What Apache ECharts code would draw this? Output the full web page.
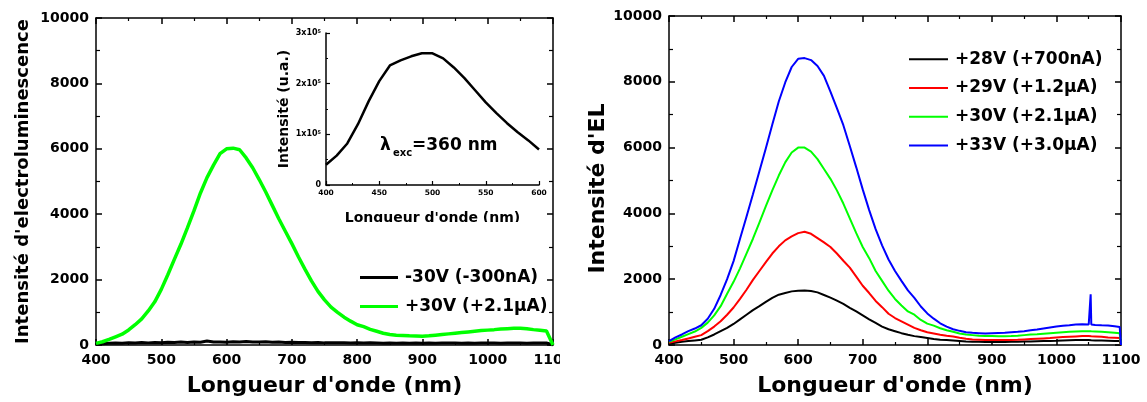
<!DOCTYPE html>
<html><head><meta charset="utf-8">
<script src="https://cdn.jsdelivr.net/npm/echarts@6/dist/echarts.min.js"></script>
<style>html,body{margin:0;padding:0;background:#fff}#c{width:1147px;height:402px}</style>
</head><body><div id="c"></div>
<script>
// ---------- DATA ----------
const wlLeft = [400,410,420,430,440,450,460,470,480,490,500,510,520,530,540,550,560,570,580,590,600,610,620,630,640,650,660,670,680,690,700,710,720,730,740,750,760,770,780,790,800,810,820,830,840,850,860,870,880,890,900,910,920,930,940,950,960,970,980,990,1000,1010,1020,1030,1040,1050,1060,1070,1080,1090,1100];
const leftBlack = [20,40,50,60,55,70,60,75,65,80, 70,85,75,90,80,95,85,120,90,95, 85,100,90,110,95,90,100,85,90,80, 85,75,80,70,75,65,70,65,70,60, 65,60,65,60,55,60,55,60,55,60, 55,60,55,60,58,62,57,60,56,62, 58,60,57,62,58,60,56,60,58,60, 0];
const leftGreen = [50,100,170,250,330,460,620,800,1040,1320, 1700,2150,2620,3080,3580,4100,4650,5120,5500,5850, 6000,6020,5970,5720,5420,5060,4680,4270,3860,3480, 3100,2700,2320,1960,1640,1380,1160,1000,850,730, 620,560,480,420,360,320,300,290,280,275, 270,280,300,320,340,360,380,400,420,440, 455,470,490,500,510,515,500,470,450,425, 0];

const wlRight = [400,410,420,430,440,450,460,470,480,490,500,510,520,530,540,550,560,570,580,590,600,610,620,630,640,650,660,670,680,690,700,710,720,730,740,750,760,770,780,790,800,810,820,830,840,850,860,870,880,890,900,910,920,930,940,950,960,970,980,990,1000,1010,1020,1030,1040,1050,1052,1053,1054,1060,1070,1080,1090,1098,1100];
const right28 = [40,70,100,120,140,160,230,320,420,520, 640,780,920,1060,1180,1310,1430,1530,1580,1630, 1650,1660,1640,1600,1520,1440,1350,1250,1130,1020, 900,780,670,560,480,420,360,310,270,240, 210,180,160,150,140,125,110,100,95,90, 90,90,90,95,100,105,110,115,120,125, 130,140,145,150,150,150, 150,150,145, 140,135,130,125, 120,0];
const right29 = [70,110,150,200,250,300,420,560,720,920, 1140,1400,1680,1980,2250,2520,2780,3000,3180,3300, 3400,3440,3380,3250,3120,2980,2780,2560,2350,2080, 1800,1580,1340,1150,950,820,720,620,520,450, 390,350,310,280,260,220,190,170,160,150, 150,150,150,155,160,170,180,190,200,210, 225,240,250,260,270,270, 270,270,265, 260,250,230,220, 210,0];
const right30 = [100,170,250,330,410,520,680,900,1180,1560, 1920,2330,2780,3230,3720,4220,4700,5150,5550,5850, 6000,6000,5880,5650,5350,5050,4700,4300,3850,3400, 2980,2640,2250,1950,1650,1400,1200,1020,920,760, 650,590,510,450,400,350,320,300,280,275, 270,265,265,270,280,300,320,330,345,360, 375,390,400,410,420,420, 420,420,415, 410,400,390,375, 360,0];
const right33 = [120,230,320,420,500,600,800,1100,1520,2000, 2550,3230,3900,4580,5280,5980,6700,7400,7980,8450, 8700,8720,8660,8480,8180,7700,7200,6680,6050,5400, 4730,4100,3520,3030,2600,2250,1950,1660,1430,1170, 960,800,660,560,480,430,390,370,360,350, 360,365,370,385,400,420,445,470,500,530, 560,585,600,620,630,625, 620,1540,620, 610,600,595,570, 545,0];

const wlInset = [400,410,420,430,440,450,460,470,480,490,500,510,520,530,540,550,560,570,580,590,600];
const insetPL = [40000,58000,82000,120000,165000,205000,236000,246000,254000,260000,260000,250000,232000,211000,187000,163000,142000,122000,104000,88000,70000];

const leftNames = ['-30V (-300nA)', '+30V (+2.1μA)'];
const rightNames = ['+28V (+700nA)', '+29V (+1.2μA)', '+30V (+2.1μA)', '+33V (+3.0μA)'];
const xName = "Longueur d'onde (nm)";
const leftYName = "Intensité d'electroluminescence";
const rightYName = "Intensité d'EL";
const insetYName = 'Intensité (u.a.)';

// ---------- CHART ----------
const F = 'DejaVu Sans';
const zip = (xs, ys) => xs.map((x, i) => [x, ys[i]]);
const plain = v => String(v);

function xAx(grid, pos, show, nameGap) {
  return {
    type: 'value', gridIndex: grid, position: pos, min: 400, max: 1100, interval: 100,
    axisLine: {show: true, onZero: false, lineStyle: {color: '#000', width: 1.5}},
    axisTick: {show: true, inside: true, length: 6, lineStyle: {color: '#000', width: 1.5}},
    minorTick: {show: true, splitNumber: 2, length: 3, lineStyle: {color: '#000', width: 1.2}},
    axisLabel: {show: show, margin: 8, fontFamily: F, fontWeight: 'bold', fontSize: 14, color: '#000', formatter: plain},
    splitLine: {show: false}, minorSplitLine: {show: false},
    name: show ? xName : '', nameLocation: 'middle', nameGap: nameGap || 30,
    nameTextStyle: {fontFamily: F, fontWeight: 'bold', fontSize: 22, color: '#000'}
  };
}
function yAx(grid, pos, show, name, nameGap, fs, pad) {
  return {
    type: 'value', gridIndex: grid, position: pos, min: 0, max: 10000, interval: 2000,
    axisLine: {show: true, onZero: false, lineStyle: {color: '#000', width: 1.5}},
    axisTick: {show: true, inside: true, length: 6, lineStyle: {color: '#000', width: 1.5}},
    minorTick: {show: true, splitNumber: 2, length: 4, lineStyle: {color: '#000', width: 1.2}},
    axisLabel: {show: show, margin: 7, fontFamily: F, fontWeight: 'bold', fontSize: 14, color: '#000', formatter: plain},
    splitLine: {show: false}, minorSplitLine: {show: false},
    name: show ? name : '', nameLocation: 'middle', nameGap: nameGap || 60,
    nameTextStyle: {fontFamily: F, fontWeight: 'bold', fontSize: fs || 22, color: '#000', padding: pad || 0}
  };
}

const option = {
  animation: false,
  backgroundColor: '#fff',
  textStyle: {fontFamily: F},
  grid: [
    {left: 96, top: 18, width: 457, height: 329},
    {left: 669, top: 16, width: 452, height: 331},
    {left: 326, top: 33, width: 213, height: 152}
  ],
  xAxis: [
    xAx(0, 'bottom', true, 30),
    xAx(0, 'top', false),
    xAx(1, 'bottom', true, 30),
    xAx(1, 'top', false),
    {
      type: 'value', gridIndex: 2, position: 'bottom', min: 400, max: 600, interval: 50,
      axisLine: {show: true, onZero: false, lineStyle: {color: '#000', width: 1.5}},
      axisTick: {show: true, inside: true, length: 4, lineStyle: {color: '#000', width: 1.2}},
      minorTick: {show: true, splitNumber: 2, length: 2, lineStyle: {color: '#000', width: 1}},
      axisLabel: {margin: 4, fontFamily: F, fontWeight: 'bold', fontSize: 7.5, color: '#000'},
      splitLine: {show: false},
      name: xName, nameLocation: 'middle', nameGap: 26,
      nameTextStyle: {fontFamily: F, fontWeight: 'bold', fontSize: 14, color: '#000'}
    }
  ],
  yAxis: [
    yAx(0, 'left', true, leftYName, 64, 18),
    yAx(0, 'right', false),
    yAx(1, 'left', true, rightYName, 58, 22, [0, 16, 0, 0]),
    yAx(1, 'right', false),
    {
      type: 'value', gridIndex: 2, position: 'left', min: 0, max: 300000, interval: 100000,
      axisLine: {show: true, onZero: false, lineStyle: {color: '#000', width: 1.5}},
      axisTick: {show: true, inside: true, length: 4, lineStyle: {color: '#000', width: 1.2}},
      minorTick: {show: true, splitNumber: 2, length: 2, lineStyle: {color: '#000', width: 1}},
      axisLabel: {
        margin: 5, fontFamily: F, fontWeight: 'bold', fontSize: 8, color: '#000',
        formatter: v => v === 0 ? '0' : (v / 100000) + 'x10{s|5}',
        rich: {s: {fontFamily: F, fontWeight: 'bold', fontSize: 5, verticalAlign: 'top', color: '#000'}}
      },
      splitLine: {show: false},
      name: insetYName, nameLocation: 'middle', nameGap: 28,
      nameTextStyle: {fontFamily: F, fontWeight: 'bold', fontSize: 14, color: '#000'}
    }
  ],
  legend: [
    {
      orient: 'vertical', left: 355, top: 258, icon: 'rect', itemWidth: 38, itemHeight: 3, itemGap: 0,
      data: leftNames, selectedMode: false,
      textStyle: {fontFamily: F, fontWeight: 'bold', fontSize: 17, color: '#000', lineHeight: 29, padding: [0, 0, 0, 2]}
    },
    {
      orient: 'vertical', left: 904, top: 40, icon: 'rect', itemWidth: 39, itemHeight: 2, itemGap: 0,
      data: rightNames, selectedMode: false,
      textStyle: {fontFamily: F, fontWeight: 'bold', fontSize: 17, color: '#000', lineHeight: 28.7, padding: [0, 0, 0, 2]}
    }
  ],
  series: [
    {name: leftNames[0], type: 'line', xAxisIndex: 0, yAxisIndex: 0, symbol: 'none', color: '#000',
      lineStyle: {width: 3, color: '#000'}, data: zip(wlLeft, leftBlack)},
    {name: leftNames[1], type: 'line', xAxisIndex: 0, yAxisIndex: 0, symbol: 'none', color: '#00ff00',
      lineStyle: {width: 3.5, color: '#00ff00'}, data: zip(wlLeft, leftGreen)},
    {name: rightNames[0], type: 'line', xAxisIndex: 2, yAxisIndex: 2, symbol: 'none', color: '#000',
      lineStyle: {width: 2, color: '#000'}, data: zip(wlRight, right28)},
    {name: rightNames[1], type: 'line', xAxisIndex: 2, yAxisIndex: 2, symbol: 'none', color: '#ff0000',
      lineStyle: {width: 2, color: '#ff0000'}, data: zip(wlRight, right29)},
    {name: rightNames[2], type: 'line', xAxisIndex: 2, yAxisIndex: 2, symbol: 'none', color: '#00ff00',
      lineStyle: {width: 2, color: '#00ff00'}, data: zip(wlRight, right30)},
    {name: rightNames[3], type: 'line', xAxisIndex: 2, yAxisIndex: 2, symbol: 'none', color: '#0000ff',
      lineStyle: {width: 2, color: '#0000ff'}, data: zip(wlRight, right33)},
    {name: 'inset', type: 'line', xAxisIndex: 4, yAxisIndex: 4, symbol: 'none', color: '#000',
      lineStyle: {width: 2.5, color: '#000'}, data: zip(wlInset, insetPL)}
  ],
  graphic: [
    {type: 'text', z: 100, style: {x: 380, y: 146, text: 'λ', font: 'bold 17px "DejaVu Sans"', fill: '#000', verticalAlign: 'middle'}},
    {type: 'text', z: 100, style: {x: 393, y: 153, text: 'exc', font: 'bold 10px "DejaVu Sans"', fill: '#000', verticalAlign: 'middle'}},
    {type: 'text', z: 100, style: {x: 412, y: 146, text: '=360 nm', font: 'bold 17px "DejaVu Sans"', fill: '#000', verticalAlign: 'middle'}},
    {type: 'rect', z: 100, shape: {x: 330, y: 222, width: 210, height: 8}, style: {fill: '#fff'}},
    {type: 'rect', z: 100, shape: {x: 560, y: 350, width: 60, height: 24}, style: {fill: '#fff'}}
  ]
};
const chart = echarts.init(document.getElementById('c'), null, {renderer: 'canvas'});
chart.setOption(option);
</script></body></html>
